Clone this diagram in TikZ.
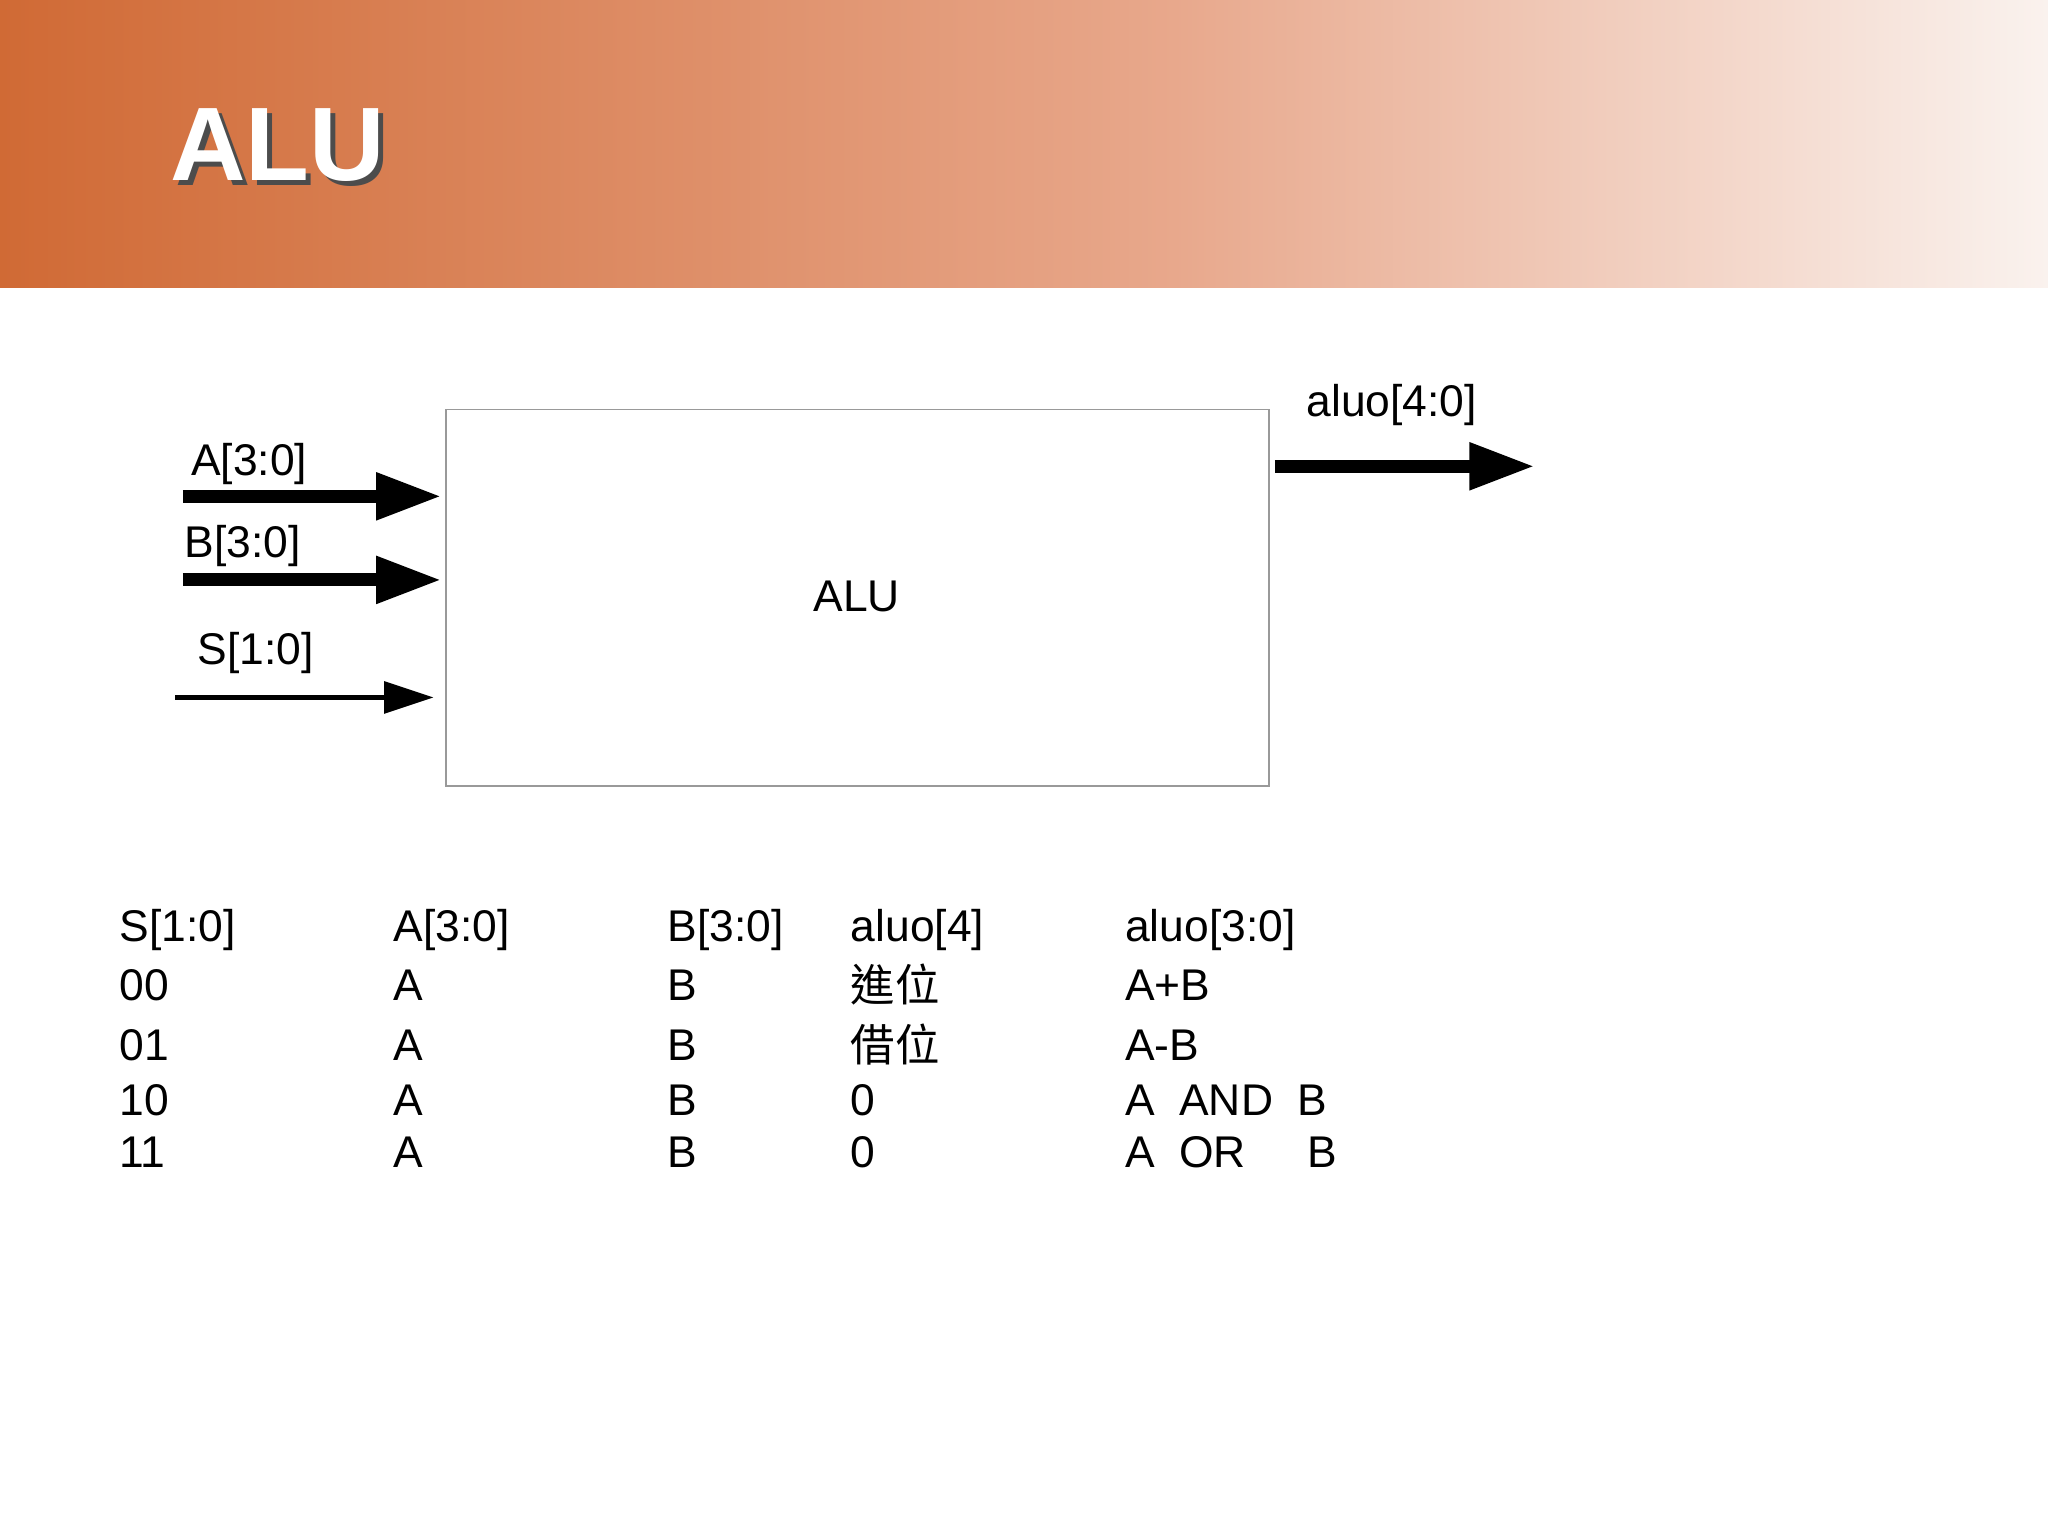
\documentclass[tikz,border=0pt]{standalone}
\usepackage{fontspec}
\setmainfont{Liberation Sans}
\newfontfamily\cjk{Noto Sans CJK TC}
\usetikzlibrary{arrows.meta,shadings}
\definecolor{hdrL}{HTML}{D06A35}
\definecolor{hdrM}{HTML}{E8A88C}
\definecolor{hdrR}{HTML}{FAF2EE}
\begin{document}
\begin{tikzpicture}[x=0.5pt,y=-0.5pt,
  txt/.style={font=\fontsize{17pt}{20pt}\selectfont,inner sep=0pt,anchor=west},
  bus/.style={line width=5pt,-{Triangle[length=25pt,width=17pt]}},
  wire/.style={line width=2pt,-{Triangle[length=19pt,width=12pt]}}]
\useasboundingbox (0,0) rectangle (1568,1176);
\fill[white] (0,0) rectangle (1568,1176);
\shade[left color=hdrL,right color=hdrM] (0,0) rectangle (900,220);
\shade[left color=hdrM,right color=hdrR] (899,0) rectangle (1568,220);
\node[anchor=west,inner sep=0pt,text=black!70,font=\fontsize{40pt}{44pt}\selectfont\bfseries] at (134,115) {ALU};
\node[anchor=west,inner sep=0pt,text=white,font=\fontsize{40pt}{44pt}\selectfont\bfseries] (title) at (130,111) {ALU};
\node[draw=black!40,line width=0.6pt,minimum width=315pt,minimum height=144pt,anchor=north west,inner sep=0pt] (alu) at (341,313) {};
\node[txt,anchor=center] (alut) at (656,457) {ALU};
\coordinate (a0) at (140,380); \coordinate (a1) at (338,380);
\coordinate (b0) at (140,444); \coordinate (b1) at (338,444);
\coordinate (s0) at (134,534); \coordinate (s1) at (332,534);
\coordinate (o0) at (976,357); \coordinate (o1) at (1175,357);
\draw[bus] (a0) -- (a1);
\draw[bus] (b0) -- (b1);
\draw[wire] (s0) -- (s1);
\draw[bus] (o0) -- (o1);
\node[txt] (la) at (146,355) {A[3:0]};
\node[txt] (lb) at (141,418) {B[3:0]};
\node[txt] (ls) at (151,500) {S[1:0]};
\node[txt] (lo) at (1000,310) {aluo[4:0]};
% table
\node[txt] (h1) at (91,712) {S[1:0]};
\node[txt] (h2) at (301,712) {A[3:0]};
\node[txt] (h3) at (511,712) {B[3:0]};
\node[txt] (h4) at (651,712) {aluo[4]};
\node[txt] (h5) at (861,712) {aluo[3:0]};
\node[txt] (r11) at (91,754) {00};
\node[txt] (r12) at (301,754) {A};
\node[txt] (r13) at (511,754) {B};
\node[txt] (r14) at (651,754) {\cjk 進位};
\node[txt] (r15) at (861,754) {A+B};
\node[txt] (r21) at (91,800) {01};
\node[txt] (r22) at (301,800) {A};
\node[txt] (r23) at (511,800) {B};
\node[txt] (r24) at (651,800) {\cjk 借位};
\node[txt] (r25) at (861,800) {A-B};
\node[txt] (r31) at (91,842) {10};
\node[txt] (r32) at (301,842) {A};
\node[txt] (r33) at (511,842) {B};
\node[txt] (r34) at (651,842) {0};
\node[txt] (r35) at (861,842) {A\ \ AND\ \ B};
\node[txt] (r41) at (91,882) {11};
\node[txt] (r42) at (301,882) {A};
\node[txt] (r43) at (511,882) {B};
\node[txt] (r44) at (651,882) {0};
\node[txt] (r45) at (861,882) {A\ \ OR\ \ \ \ \ B};
\end{tikzpicture}
\end{document}
